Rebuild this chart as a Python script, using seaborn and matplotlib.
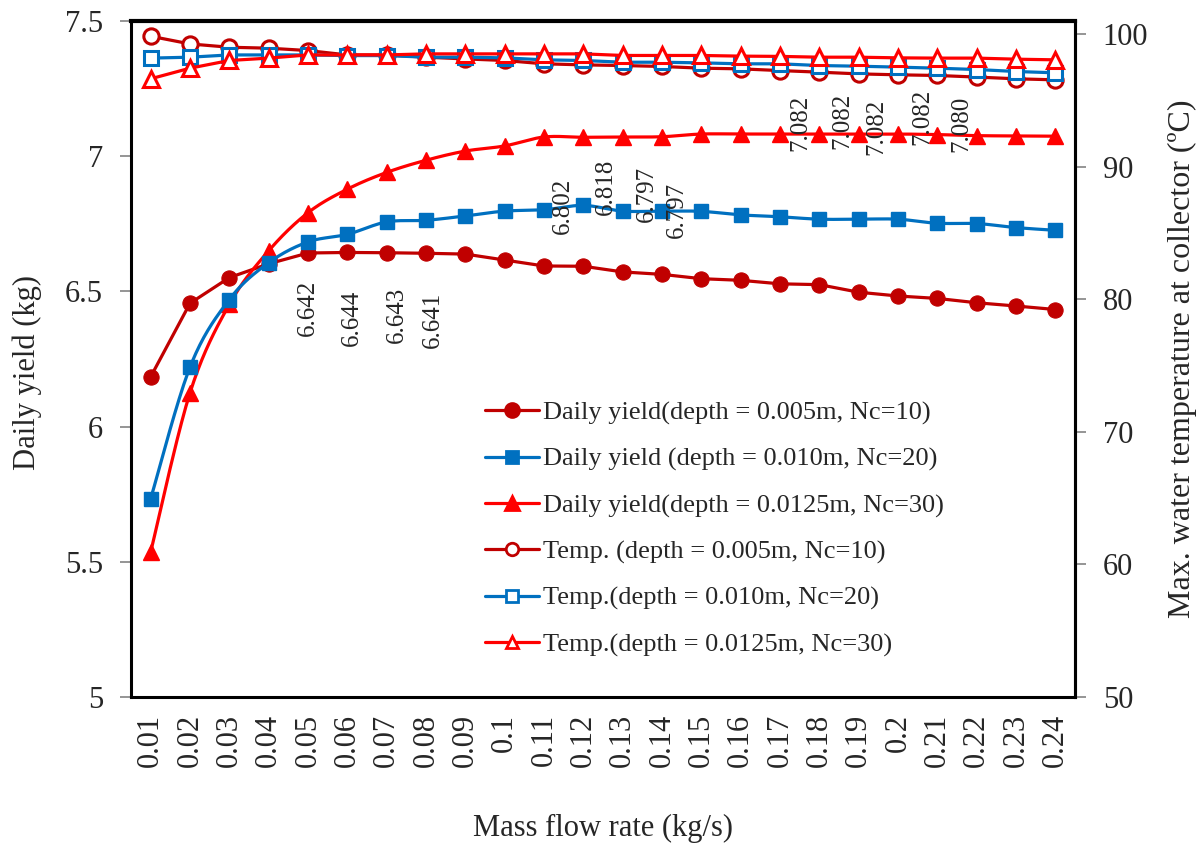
import numpy as np
import matplotlib
matplotlib.use("Agg")
import matplotlib.pyplot as plt
from matplotlib.lines import Line2D
from matplotlib.ticker import FixedLocator, FormatStrFormatter
import seaborn as sns

# ---- data -------------------------------------------------------------
flow_rates = ["0.01", "0.02", "0.03", "0.04", "0.05", "0.06", "0.07", "0.08",
              "0.09", "0.1", "0.11", "0.12", "0.13", "0.14", "0.15", "0.16",
              "0.17", "0.18", "0.19", "0.2", "0.21", "0.22", "0.23", "0.24"]

# daily yield (kg)
yield_nc10 = [6.184, 6.456, 6.551, 6.602, 6.642, 6.644, 6.643, 6.641,
              6.638, 6.616, 6.594, 6.593, 6.572, 6.563, 6.547, 6.541,
              6.528, 6.525, 6.497, 6.483, 6.474, 6.458, 6.446, 6.433]
yield_nc20 = [5.733, 6.220, 6.470, 6.606, 6.683, 6.711, 6.757, 6.763,
              6.779, 6.797, 6.802, 6.818, 6.797, 6.797, 6.796, 6.783,
              6.776, 6.767, 6.767, 6.767, 6.752, 6.751, 6.736, 6.726]
yield_nc30 = [5.536, 6.125, 6.452, 6.650, 6.791, 6.878, 6.940, 6.985,
              7.019, 7.038, 7.071, 7.070, 7.071, 7.072, 7.082, 7.082,
              7.082, 7.082, 7.082, 7.082, 7.080, 7.076, 7.075, 7.074]

# max. water temperature at collector (deg C)
temp_nc10 = [99.85, 99.27, 99.02, 98.95, 98.77, 98.44, 98.44, 98.27,
             98.14, 98.02, 97.77, 97.69, 97.64, 97.57, 97.44, 97.39,
             97.26, 97.14, 97.01, 96.94, 96.89, 96.77, 96.64, 96.56]
temp_nc20 = [98.20, 98.27, 98.44, 98.44, 98.44, 98.39, 98.39, 98.27,
             98.27, 98.22, 98.07, 98.02, 97.89, 97.89, 97.84, 97.77,
             97.77, 97.64, 97.59, 97.52, 97.44, 97.34, 97.19, 97.09]
temp_nc30 = [96.64, 97.44, 98.02, 98.20, 98.44, 98.44, 98.44, 98.52,
             98.52, 98.52, 98.52, 98.52, 98.40, 98.40, 98.40, 98.35,
             98.33, 98.27, 98.27, 98.22, 98.20, 98.20, 98.12, 98.07]

legend_labels = [
    "Daily yield(depth = 0.005m, Nc=10)",
    "Daily yield (depth = 0.010m, Nc=20)",
    "Daily yield(depth = 0.0125m, Nc=30)",
    "Temp. (depth = 0.005m, Nc=10)",
    "Temp.(depth = 0.010m, Nc=20)",
    "Temp.(depth = 0.0125m, Nc=30)",
]

# indices of the points that carry a value label
labelled_nc10 = [4, 5, 6, 7]
labelled_nc20 = [10, 11, 12, 13]
labelled_nc30 = [16, 17, 18, 19, 20]

# ---- style ------------------------------------------------------------
sns.set_theme(style="white")
plt.rcParams["font.family"] = ["Liberation Serif", "DejaVu Serif"]
plt.rcParams["mathtext.fontset"] = "stix"

DARK_RED = "#C00000"
BLUE = "#0070C0"
RED = "#FF0000"
LW = 2.3


def smooth_curve(xs, ys, steps=20):
    """Catmull-Rom style smoothed line passing through every point."""
    xs = np.asarray(xs, float)
    ys = np.asarray(ys, float)
    px = np.concatenate([[xs[0]], xs, [xs[-1]]])
    py = np.concatenate([[ys[0]], ys, [ys[-1]]])
    out_x, out_y = [], []
    for i in range(1, len(px) - 2):
        p0x, p1x, p2x, p3x = px[i - 1], px[i], px[i + 1], px[i + 2]
        p0y, p1y, p2y, p3y = py[i - 1], py[i], py[i + 1], py[i + 2]
        c1x, c1y = p1x + (p2x - p0x) / 6, p1y + (p2y - p0y) / 6
        c2x, c2y = p2x - (p3x - p1x) / 6, p2y - (p3y - p1y) / 6
        t = np.linspace(0, 1, steps, endpoint=False)
        b0, b1, b2, b3 = (1 - t) ** 3, 3 * t * (1 - t) ** 2, 3 * t ** 2 * (1 - t), t ** 3
        out_x.extend(b0 * p1x + b1 * c1x + b2 * c2x + b3 * p2x)
        out_y.extend(b0 * p1y + b1 * c1y + b2 * c2y + b3 * p2y)
    out_x.append(xs[-1])
    out_y.append(ys[-1])
    return np.array(out_x), np.array(out_y)


fig = plt.figure(figsize=(12.03, 8.48), dpi=100)
ax = fig.add_axes([131 / 1203, 1 - 697 / 848, (1075 - 131) / 1203, (697 - 21) / 848])
ax2 = ax.twinx()

pos = np.arange(len(flow_rates))

# ---- daily yield (left axis) -----------------------------------------
sns.lineplot(x=pos, y=yield_nc10, ax=ax, color=DARK_RED, linewidth=LW,
             marker="o", markersize=11, markeredgecolor=DARK_RED,
             markerfacecolor=DARK_RED, zorder=3)

sx, sy = smooth_curve(pos, yield_nc20)
sns.lineplot(x=sx, y=sy, ax=ax, color=BLUE, linewidth=LW, zorder=4)
ax.plot(pos, yield_nc20, ls="none", marker="s", markersize=9.5,
        color=BLUE, zorder=4)

sx, sy = smooth_curve(pos, yield_nc30)
sns.lineplot(x=sx, y=sy, ax=ax, color=RED, linewidth=LW, zorder=3)
ax.plot(pos, yield_nc30, ls="none", marker="^", markersize=11,
        color=RED, zorder=3)

# ---- temperature (right axis) ----------------------------------------
open_kw = dict(markerfacecolor="white", markeredgewidth=2.2, linewidth=LW)
sns.lineplot(x=pos, y=temp_nc10, ax=ax2, color=DARK_RED, marker="o",
             markersize=11, markeredgecolor=DARK_RED, zorder=3, **open_kw)
sns.lineplot(x=pos, y=temp_nc20, ax=ax2, color=BLUE, marker="s",
             markersize=10, markeredgecolor=BLUE, zorder=4, **open_kw)
sns.lineplot(x=pos, y=temp_nc30, ax=ax2, color=RED, marker="^",
             markersize=11.5, markeredgecolor=RED, zorder=5, **open_kw)

# ---- value labels ----------------------------------------------------
label_kw = dict(rotation=90, fontsize=18, ha="center", va="center",
                textcoords="offset pixels", zorder=6)
offsets_nc10 = [(0, -55), (5, -65), (10, -62), (7, -67)]
for idx, (dx, dy) in zip(labelled_nc10, offsets_nc10):
    ax.annotate(f"{yield_nc10[idx]:.3f}", (pos[idx], yield_nc10[idx]),
                xytext=(dx, dy), **label_kw)
offsets_nc20 = [(19, 4), (23, 19), (24, 17), (15, 1)]
for idx, (dx, dy) in zip(labelled_nc20, offsets_nc20):
    ax.annotate(f"{yield_nc20[idx]:.3f}", (pos[idx], yield_nc20[idx]),
                xytext=(dx, dy), **label_kw)
offsets_nc30 = [(20, 11), (23, 13), (18, 7), (24, 17), (24, 11)]
for idx, (dx, dy) in zip(labelled_nc30, offsets_nc30):
    ax.annotate(f"{yield_nc30[idx]:.3f}", (pos[idx], yield_nc30[idx]),
                xytext=(dx, dy), **label_kw)

# ---- axes ------------------------------------------------------------
ax.set_xlim(-0.5, len(flow_rates) - 0.5)
ax.set_ylim(5, 7.5)
ax2.set_ylim(50, 101)

ax.set_yticks([5, 5.5, 6, 6.5, 7, 7.5])
ax.yaxis.set_major_formatter(FormatStrFormatter("%g"))
ax2.set_yticks([50, 60, 70, 80, 90, 100])

ax.set_xticks(pos)
ax.set_xticklabels(flow_rates, rotation=90)
ax.xaxis.set_minor_locator(FixedLocator(np.arange(-0.5, len(flow_rates), 1.0)))

tick_gray = "#8c8c8c"
ax.tick_params(axis="x", which="major", length=0, labelsize=22, pad=12)
ax.tick_params(axis="x", which="minor", direction="out", length=8,
               width=1.3, color=tick_gray)
ax.tick_params(axis="y", direction="out", length=8, width=1.3,
               color=tick_gray, labelsize=22, pad=12, left=True)
ax2.tick_params(axis="y", direction="out", length=8, width=1.3,
                color=tick_gray, labelsize=22, pad=12, right=True)

for name, sp in ax.spines.items():
    sp.set_visible(True)
    sp.set_color("black")
    sp.set_linewidth(2.2)
ax.spines["top"].set_linewidth(3)
for name, sp in ax2.spines.items():
    sp.set_visible(name == "right")
    sp.set_color("black")
    sp.set_linewidth(2.2)

ax.set_xlabel("Mass flow rate (kg/s)", fontsize=22, labelpad=34)
ax.set_ylabel("Daily yield (kg)", fontsize=22)
ax.yaxis.set_label_coords(-0.094, 0.48)
ax2.set_ylabel("Max. water temperature at collector (ºC)", fontsize=23,
               labelpad=14)

# ---- legend ----------------------------------------------------------
def handle(color, marker, size, filled):
    return Line2D([], [], color=color, linewidth=LW, marker=marker,
                  markersize=size, markeredgecolor=color,
                  markeredgewidth=2.0,
                  markerfacecolor=color if filled else "white")

handles = [
    handle(DARK_RED, "o", 10, True),
    handle(BLUE, "s", 9, True),
    handle(RED, "^", 10, True),
    handle(DARK_RED, "o", 9, False),
    handle(BLUE, "s", 9, False),
    handle(RED, "^", 9, False),
]
fig.legend(handles, legend_labels, loc="upper left",
           bbox_to_anchor=(472 / 1203, 1 - 388 / 848), frameon=False,
           fontsize=19, handlelength=2.05, handletextpad=0.15,
           labelspacing=0.85, borderpad=0)

fig.savefig("out.png", dpi=100)
